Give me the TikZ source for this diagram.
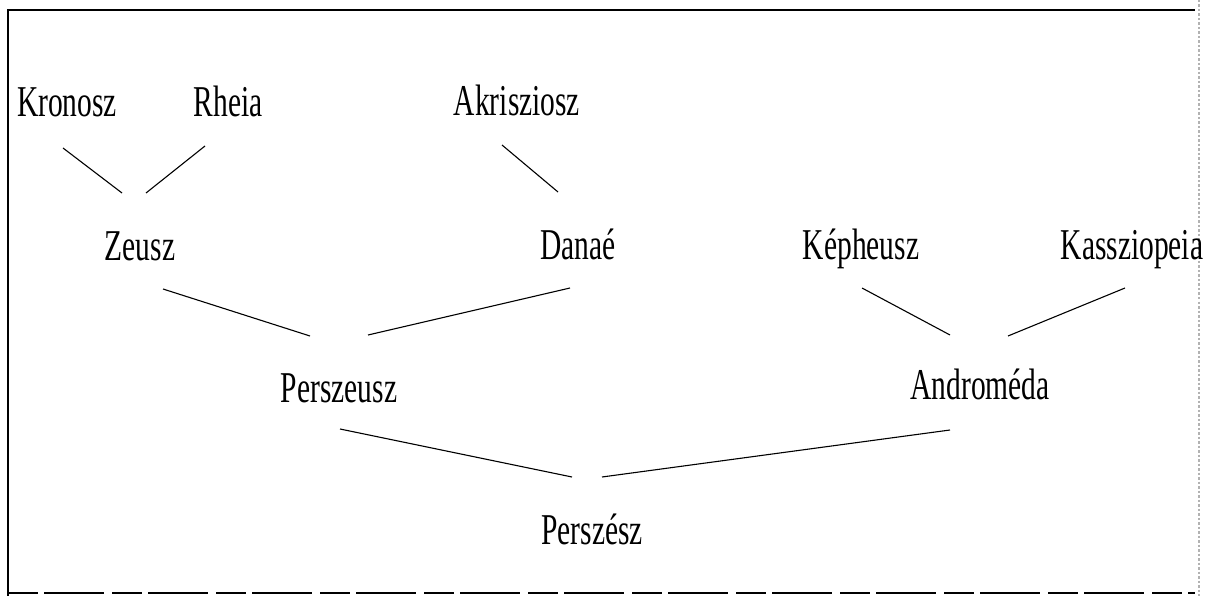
\documentclass[tikz,border=0pt]{standalone}
\usepackage{fontspec}
\setmainfont[FakeStretch=0.67]{Liberation Serif}
\usetikzlibrary{calc}
\tikzset{
  person/.style={anchor=base,inner sep=0pt,font=\fontsize{44}{50}\selectfont},
  link/.style={line width=1.1pt,black},
  frameline/.style={line width=1.3pt,black}
}
\begin{document}
\begin{tikzpicture}[x=1pt,y=-1pt]
\useasboundingbox (0,0) rectangle (1205,596);
% frame
\draw[frameline] (8,596) -- (8,10) -- (1195,10);
\draw[line width=2.5pt,gray!60,dotted] (1199,0) -- (1199,596);
\draw[frameline,dash pattern=on 30pt off 6pt on 60pt off 8pt] (8,593) -- (1195,593);
% people
\node[person] (kro) at (67,117) {Kronosz};
\node[person] (rhe) at (228,117) {Rheia};
\node[person] (akr) at (517,116) {Akrisziosz};
\node[person] (zeu) at (140,261) {Zeusz};
\node[person] (dan) at (578,259) {Danaé};
\node[person] (kep) at (861,260) {Képheusz};
\node[person] (kas) at (1132,260) {Kassziopeia};
\node[person] (per) at (339,402) {Perszeusz};
\node[person] (and) at (980,399) {Androméda};
\node[person] (prs) at (592,544) {Perszész};
% links
\draw[link] ($(kro.base)+(-4,31)$) -- ($(zeu.base)+(-18,-68)$);
\draw[link] ($(rhe.base)+(-23,29)$) -- ($(zeu.base)+(6,-68)$);
\draw[link] ($(akr.base)+(-15,29)$) -- ($(dan.base)+(-20,-67)$);
\draw[link] ($(zeu.base)+(23,28)$) -- ($(per.base)+(-29,-66)$);
\draw[link] ($(dan.base)+(-8,29)$) -- ($(per.base)+(29,-67)$);
\draw[link] ($(kep.base)+(1,28)$) -- ($(and.base)+(-30,-64)$);
\draw[link] ($(kas.base)+(-7,28)$) -- ($(and.base)+(28,-63)$);
\draw[link] ($(per.base)+(1,27)$) -- ($(prs.base)+(-20,-67)$);
\draw[link] ($(and.base)+(-30,31)$) -- ($(prs.base)+(10,-67)$);
\end{tikzpicture}
\end{document}
